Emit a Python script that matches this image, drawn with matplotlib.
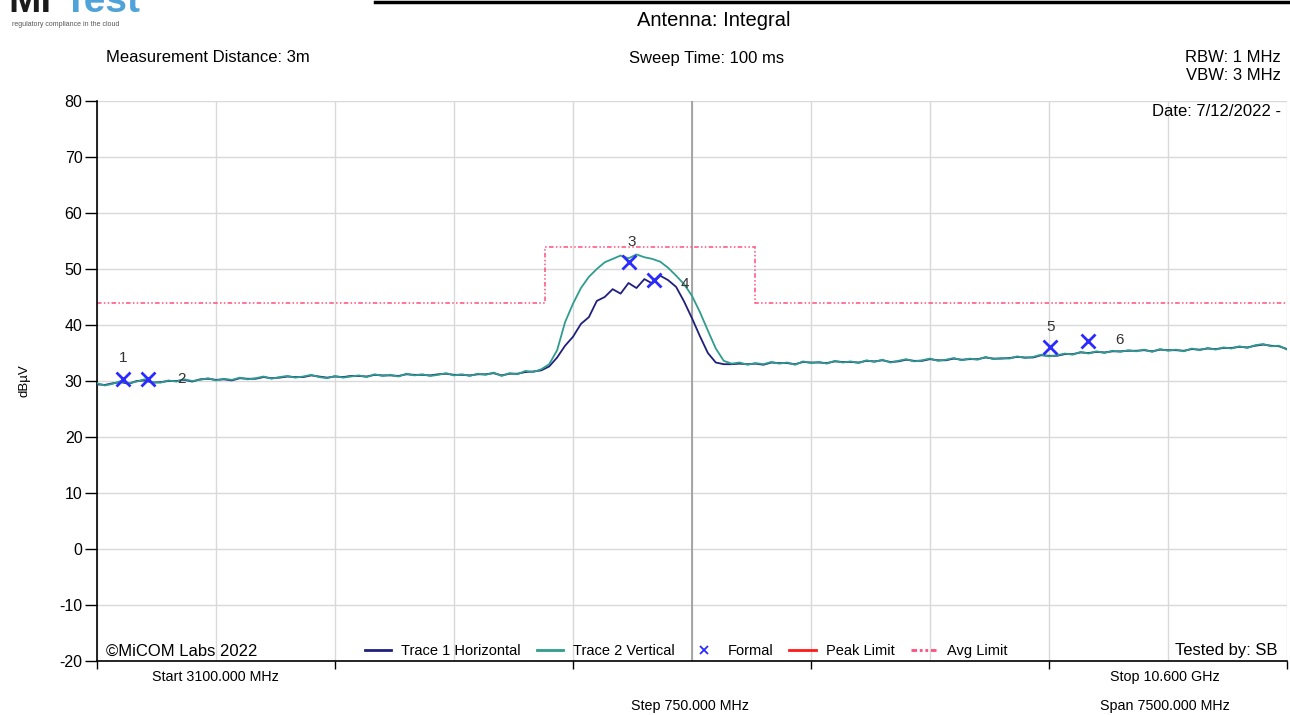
import matplotlib
matplotlib.use("Agg")
import matplotlib.pyplot as plt
import numpy as np
from matplotlib.lines import Line2D

plt.rcParams["font.family"] = ["Liberation Sans", "DejaVu Sans"]
plt.rcParams["axes.unicode_minus"] = False

# sweep: 3100 MHz .. 10600 MHz, one point every 50 MHz
freq_mhz = np.arange(3100, 10601, 50)

# Trace 1 Horizontal (dBuV), 10 points per row = 500 MHz
trace_h = [
    29.4, 29.3, 29.6, 29.8, 29.5, 30.0, 30.1, 29.7, 29.8, 30.0,
    30.0, 30.2, 29.9, 30.3, 30.4, 30.2, 30.3, 30.1, 30.5, 30.4,
    30.4, 30.7, 30.5, 30.6, 30.8, 30.7, 30.7, 31.0, 30.8, 30.6,
    30.8, 30.7, 30.9, 30.9, 30.8, 31.1, 31.0, 31.0, 30.9, 31.2,
    31.1, 31.1, 31.0, 31.2, 31.3, 31.1, 31.1, 31.0, 31.2, 31.2,
    31.4, 31.0, 31.3, 31.3, 31.6, 31.7, 31.9, 32.6, 34.2, 36.3,
    37.9, 40.2, 41.4, 44.3, 45.0, 46.4, 45.6, 47.5, 46.6, 48.2,
    47.4, 48.8, 48.0, 46.8, 44.2, 41.2, 38.0, 35.0, 33.3, 33.0,
    33.0, 33.1, 33.0, 33.1, 32.9, 33.3, 33.2, 33.2, 33.0, 33.4,
    33.3, 33.3, 33.2, 33.5, 33.4, 33.4, 33.3, 33.6, 33.5, 33.7,
    33.4, 33.5, 33.8, 33.6, 33.6, 33.9, 33.7, 33.7, 34.0, 33.8,
    33.9, 33.9, 34.2, 34.0, 34.0, 34.1, 34.3, 34.2, 34.2, 34.6,
    34.5, 34.5, 34.8, 34.8, 35.1, 35.0, 35.2, 35.1, 35.3, 35.3,
    35.4, 35.4, 35.5, 35.3, 35.6, 35.5, 35.5, 35.4, 35.7, 35.6,
    35.8, 35.7, 35.9, 35.9, 36.1, 36.0, 36.3, 36.5, 36.3, 36.2,
    35.7,
]

# Trace 2 Vertical (dBuV)
trace_v = [
    29.6, 29.2, 29.5, 30.0, 29.6, 29.9, 30.3, 29.8, 29.7, 30.1,
    29.9, 30.3, 30.0, 30.2, 30.5, 30.1, 30.4, 30.2, 30.6, 30.3,
    30.5, 30.8, 30.4, 30.7, 30.9, 30.6, 30.8, 31.1, 30.7, 30.5,
    30.9, 30.6, 30.8, 31.0, 30.7, 31.2, 30.9, 31.1, 30.8, 31.3,
    31.0, 31.2, 30.9, 31.1, 31.4, 31.0, 31.2, 30.9, 31.3, 31.1,
    31.5, 30.9, 31.4, 31.2, 31.8, 31.6, 32.1, 33.0, 35.5, 40.5,
    43.8, 46.6, 48.6, 50.0, 51.2, 51.8, 52.4, 51.9, 52.6, 52.1,
    51.8, 51.3, 50.2, 48.8, 47.3, 45.2, 42.3, 39.0, 35.8, 33.6,
    33.1, 33.3, 32.9, 33.2, 33.0, 33.4, 33.1, 33.3, 32.9, 33.5,
    33.2, 33.4, 33.1, 33.6, 33.3, 33.5, 33.2, 33.7, 33.4, 33.8,
    33.3, 33.6, 33.9, 33.5, 33.7, 34.0, 33.6, 33.8, 34.1, 33.7,
    34.0, 33.8, 34.3, 33.9, 34.1, 34.0, 34.4, 34.1, 34.3, 34.7,
    34.4, 34.6, 34.9, 34.7, 35.2, 34.9, 35.3, 35.0, 35.4, 35.2,
    35.5, 35.3, 35.6, 35.2, 35.7, 35.4, 35.6, 35.3, 35.8, 35.5,
    35.9, 35.6, 36.0, 35.8, 36.2, 35.9, 36.4, 36.6, 36.2, 36.3,
    35.6,
]

# average limit: level between band edges
limit_edges = [3100, 5925, 7250, 10600]
avg_limit = [44, 54, 44]

# formal markers
marker_freq = [3264, 3421, 6453, 6611, 9107, 9346]
marker_level = [30.4, 30.4, 51.3, 48.0, 36.1, 37.1]
marker_names = ["1", "2", "3", "4", "5", "6"]

NAVY = "#1f1f7d"
TEAL = "#2f9c8e"
MARK = "#2b2bff"

fig = plt.figure(figsize=(12.9, 7.15), dpi=100)
ax = fig.add_axes([97 / 1290, 1 - 661 / 715, 1190 / 1290, 560 / 715])

ax.set_xlim(3100, 10600)
ax.set_ylim(-20, 80)

# grid
for f in np.arange(3100, 10601, 750):
    ax.axvline(f, color="#d9d9d9", lw=1, zorder=0)
for v in np.arange(-20, 81, 10):
    ax.axhline(v, color="#d9d9d9", lw=1, zorder=0)
ax.axvline(6850, color="#9a9a9a", lw=1.2, zorder=0)

ax.stairs(avg_limit, limit_edges, color="#ff4f7b", lw=1.1,
          linestyle=(0, (3, 1.5, 1, 1.5, 1, 1.5)), baseline=None, zorder=2,
          label="Avg Limit")
ax.plot(freq_mhz, trace_h, color=NAVY, lw=1.3, zorder=3, label="Trace 1 Horizontal")
ax.plot(freq_mhz, trace_v, color=TEAL, lw=1.3, zorder=4, label="Trace 2 Vertical")
ax.plot(marker_freq, marker_level, "x", color=MARK, ms=10, mew=2, zorder=5)

label_offsets = {"1": (0, 15), "2": (24, 0), "3": (2, 14), "4": (22, -3),
                 "5": (0, 14), "6": (23, 1)}
for f, v, name in zip(marker_freq, marker_level, marker_names):
    ax.annotate(name, (f, v), xytext=label_offsets[name], textcoords="offset points",
                ha="center", va="center", fontsize=11, color="#333333", zorder=6)

# axes styling
for side in ("top", "right"):
    ax.spines[side].set_visible(False)
for side in ("left", "bottom"):
    ax.spines[side].set_linewidth(1.2)
ax.set_yticks(np.arange(-20, 81, 10))
ax.tick_params(axis="y", length=8.5, width=1, pad=2, labelsize=11.5)
ax.set_xticks(np.arange(3100, 10601, 1500))
ax.set_xticklabels([])
ax.tick_params(axis="x", length=5.5, width=1)

# legend
handles = [
    Line2D([], [], color=NAVY, lw=2),
    Line2D([], [], color=TEAL, lw=2),
    Line2D([], [], color=MARK, marker="x", ls="none", ms=6, mew=1.3),
    Line2D([], [], color="#ff1a1a", lw=2),
    Line2D([], [], color="#ff4f7b", lw=2, ls=(0, (2, 1, 1, 1, 1, 1))),
]
labels = ["Trace 1 Horizontal", "Trace 2 Vertical", "Formal", "Peak Limit", "Avg Limit"]
ax.legend(handles, labels, ncol=5, loc="center", bbox_to_anchor=(0.495, 0.017),
          frameon=False, fontsize=10.5, handlelength=1.8, handletextpad=0.7,
          columnspacing=1.1, borderpad=0)

ax.text(0.0076, 0.018, "\u00a9MiCOM Labs 2022", transform=ax.transAxes,
        ha="left", va="center", fontsize=12)
ax.text(0.9916, 0.018, "Tested by: SB", transform=ax.transAxes,
        ha="right", va="center", fontsize=12)
ax.text(0.995, 0.982, "Date: 7/12/2022 -", transform=ax.transAxes,
        ha="right", va="center", fontsize=12)

ax.set_ylabel("dB\u00b5V", fontsize=9.5)
ax.yaxis.set_label_coords(-67 / 1190, 0.5)

# header
def fy(py):
    return 1 - py / 715

fig.text(714 / 1290, fy(20), "Antenna: Integral", ha="center", va="center", fontsize=14.5)
fig.text(106 / 1290, fy(58), "Measurement Distance: 3m", ha="left", va="center", fontsize=12)
fig.text(707 / 1290, fy(58), "Sweep Time: 100 ms", ha="center", va="center", fontsize=12)
fig.text(1281 / 1290, fy(58), "RBW: 1 MHz", ha="right", va="center", fontsize=12)
fig.text(1281 / 1290, fy(76), "VBW: 3 MHz", ha="right", va="center", fontsize=12)

# footer
fig.text(215 / 1290, fy(677), "Start 3100.000 MHz", ha="center", va="center", fontsize=10.3)
fig.text(1165 / 1290, fy(677), "Stop 10.600 GHz", ha="center", va="center", fontsize=10.3)
fig.text(690 / 1290, fy(706), "Step 750.000 MHz", ha="center", va="center", fontsize=10.3)
fig.text(1165 / 1290, fy(706), "Span 7500.000 MHz", ha="center", va="center", fontsize=10.3)

# logo, cut off at the top edge as in the capture
fig.text(8 / 1290, fy(12), "Mi", ha="left", va="baseline", fontsize=28,
         fontweight="bold", color="#1a1a1a")
fig.text(64 / 1290, fy(12), "Test", ha="left", va="baseline", fontsize=28,
         fontweight="bold", color="#4fa3d9")
fig.text(12 / 1290, fy(24), "regulatory compliance in the cloud", ha="left",
         va="center", fontsize=5, color="#555555")
fig.add_artist(Line2D([375 / 1290, 1], [fy(1.5), fy(1.5)], color="black", lw=2.5,
                      transform=fig.transFigure))

fig.savefig("out.png", dpi=100)
